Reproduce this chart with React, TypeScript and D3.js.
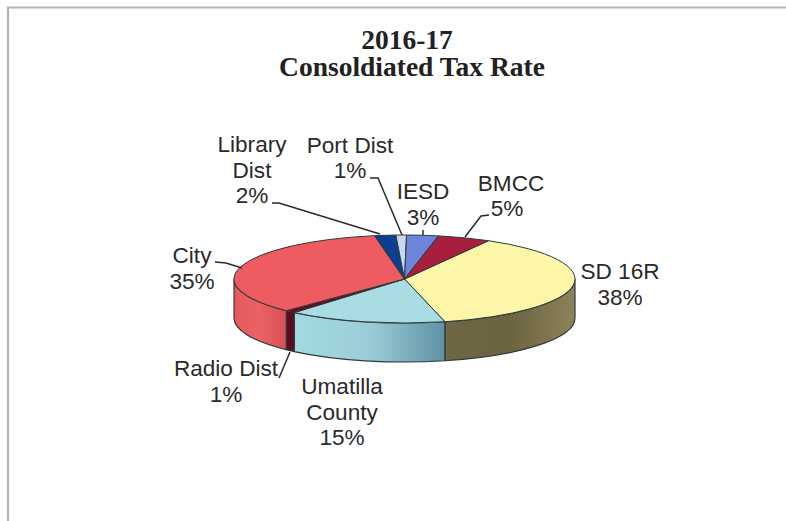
import React from "react";
import * as d3 from "d3";

// Share of the consolidated tax rate, clockwise from the SD 16R slice
const categories = ["SD 16R", "Umatilla County", "Radio Dist", "City", "Library Dist", "Port Dist", "IESD", "BMCC"];
const shares = [38, 15, 1, 35, 2, 1, 3, 5];
const topColors = ["#fdf6a9", "#a9dde3", "#6b0a22", "#ee5b60", "#0b3f8f", "#c9d8ef", "#6c85da", "#a81f3d"];
const wallStops = [
  ["#8d8359", "#6c6340", "#6f6744"],
  ["#a3d9e0", "#9ccdd6", "#5f91a6"],
  ["#5c0a1e", "#5c0a1e", "#5c0a1e"],
  ["#e65a5c", "#ea6265", "#d94f55"],
  ["#0b3f8f", "#0b3f8f", "#0b3f8f"],
  ["#c9d8ef", "#c9d8ef", "#c9d8ef"],
  ["#6c85da", "#6c85da", "#6c85da"],
  ["#a81f3d", "#a81f3d", "#a81f3d"],
];
const titleLines = ["2016-17", "Consoldiated Tax Rate"];

// Text blocks placed around the pie
const labelBlocks = [
  { lines: ["SD 16R", "38%"], x: 620, y: 279 },
  { lines: ["Umatilla", "County", "15%"], x: 342, y: 394 },
  { lines: ["Radio Dist", "1%"], x: 226, y: 376 },
  { lines: ["City", "35%"], x: 192, y: 263 },
  { lines: ["Library", "Dist", "2%"], x: 252, y: 152 },
  { lines: ["Port Dist"], x: 350, y: 153 },
  { lines: ["1%"], x: 350, y: 178 },
  { lines: ["IESD", "3%"], x: 423, y: 199 },
  { lines: ["BMCC"], x: 511, y: 191 },
  { lines: ["5%"], x: 507, y: 216 },
];
const leaderLines: [number, number][][] = [
  [[215, 262], [226, 263], [242, 268]],
  [[272, 203], [279, 203], [380, 234]],
  [[370, 178], [378, 178], [402, 235]],
  [[423, 230], [423, 235]],
  [[489, 215], [481, 216], [465, 237]],
  [[290, 352], [279, 378]],
];

const W = 786;
const H = 521;
const cx = 404.5;
const cy = 279;
const rx = 170.5;
const ry = 44;
const depth = 39;
const startDeg = 29.5;

const toRad = d3.scaleLinear().domain([0, 360]).range([0, 2 * Math.PI]);
const pie = d3.pie<number>().sort(null).startAngle(toRad(startDeg)).endAngle(toRad(startDeg + 360));
const arcs = pie(shares);
const arcPath = d3.arc<d3.PieArcDatum<number>>().innerRadius(0).outerRadius(rx);
const line = d3.line();

const px = (a: number) => cx + rx * Math.sin(a);
const py = (a: number) => cy - ry * Math.cos(a);

// Outer wall of a slice: only the part of its rim that faces the viewer
function wallRange(a0: number, a1: number) {
  const lo = Math.max(a0, Math.PI / 2);
  const hi = Math.min(a1, (3 * Math.PI) / 2);
  return lo < hi ? [lo, hi] : null;
}
function wallPath(lo: number, hi: number) {
  return (
    `M${px(lo)},${py(lo)}` +
    `A${rx},${ry} 0 0 1 ${px(hi)},${py(hi)}` +
    `L${px(hi)},${py(hi) + depth}` +
    `A${rx},${ry} 0 0 0 ${px(lo)},${py(lo) + depth}Z`
  );
}

const edge = "#2b3a3a";

export default function App() {
  return (
    <svg width={W} height={H} viewBox={`0 0 ${W} ${H}`} style={{ position: "absolute", left: 0, top: 0, background: "#fff" }}>
      <defs>
        {arcs.map((d, i) => {
          const r = wallRange(d.startAngle, d.endAngle);
          if (!r) return null;
          return (
            <linearGradient key={i} id={`wall${i}`} gradientUnits="userSpaceOnUse" x1={px(r[1])} x2={px(r[0])} y1={0} y2={0}>
              <stop offset="0" stopColor={wallStops[i][i === 0 ? 2 : 0]} />
              <stop offset="0.5" stopColor={wallStops[i][1]} />
              <stop offset="1" stopColor={wallStops[i][i === 0 ? 0 : 2]} />
            </linearGradient>
          );
        })}
      </defs>

      {/* scanned page frame */}
      <path d={`M8,${H}V7.5H${W}`} fill="none" stroke="#b4b4b4" strokeWidth={2.2} />

      <text textAnchor="middle" fontFamily="'Liberation Serif', serif" fontWeight="bold" fontSize={27.5} fill="#222">
        {titleLines.map((t, i) => (
          <tspan key={t} x={i === 0 ? 407 : 412} y={49 + i * 27}>{t}</tspan>
        ))}
      </text>

      {/* pie walls, then the top face */}
      {arcs.map((d, i) => {
        const r = wallRange(d.startAngle, d.endAngle);
        return r ? (
          <path key={categories[i]} d={wallPath(r[0], r[1])} fill={`url(#wall${i})`} stroke={edge} strokeWidth={1.2} strokeLinejoin="round" />
        ) : null;
      })}
      <g transform={`translate(${cx},${cy}) scale(1,${ry / rx})`}>
        {arcs.map((d, i) => (
          <path
            key={categories[i]}
            d={arcPath(d) ?? ""}
            fill={topColors[i]}
            stroke={edge}
            strokeWidth={1}
            strokeLinejoin="round"
            vectorEffect="non-scaling-stroke"
          />
        ))}
      </g>

      {leaderLines.map((pts, i) => (
        <path key={i} d={line(pts) ?? ""} fill="none" stroke="#2a2a2a" strokeWidth={1.5} />
      ))}

      <g fontFamily="'Liberation Sans', Arial, sans-serif" fontSize={22.6} fill="#2a2a2a" textAnchor="middle">
        {labelBlocks.map((b) => (
          <text key={b.lines.join()} y={b.y}>
            {b.lines.map((l, i) => (
              <tspan key={l} x={b.x} y={b.y + i * 25.5}>{l}</tspan>
            ))}
          </text>
        ))}
      </g>
    </svg>
  );
}
